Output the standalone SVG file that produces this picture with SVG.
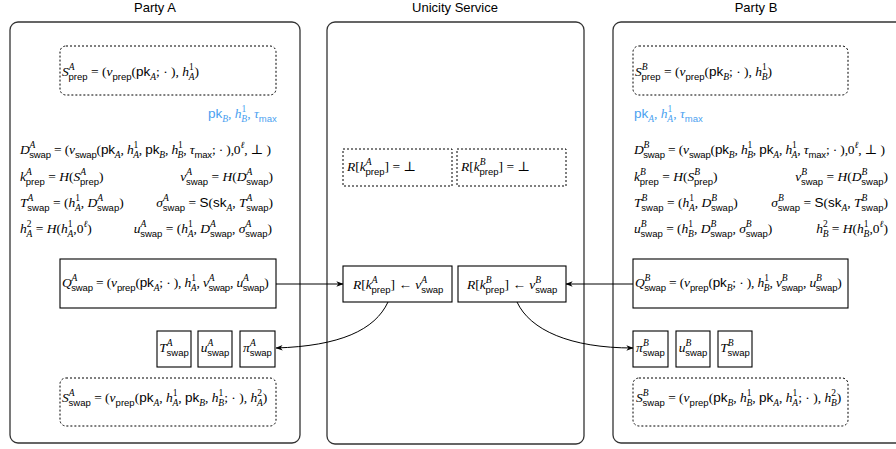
<svg xmlns="http://www.w3.org/2000/svg" width="896" height="449" viewBox="0 0 896 449">
<defs>
<style>
.panel{fill:#fff;stroke:#333;stroke-width:1.3}
.box{fill:#fff;stroke:#000;stroke-width:1.1}
.dash{fill:#fff;stroke:#000;stroke-width:1;stroke-dasharray:2 2}
.title{font-family:"Liberation Sans",Arial,sans-serif;font-size:13px;fill:#000;text-anchor:middle}
.eq{font-family:"Liberation Serif","DejaVu Serif",serif;font-size:13.5px;fill:#000}
.tight{letter-spacing:-0.15px}
.s{font-size:9.5px}
.sf{font-family:"Liberation Sans","DejaVu Sans",sans-serif}
.i{font-style:italic}
.blue{fill:#4a9ff0}
.conn{fill:none;stroke:#000;stroke-width:1}
</style>
<marker id="ah" viewBox="0 0 10 10" refX="9.5" refY="5" markerWidth="7" markerHeight="7" orient="auto" markerUnits="userSpaceOnUse"><path d="M0,1 L10,5 L0,9 L3,5 Z" fill="#000"/></marker>
</defs>
<rect width="896" height="449" fill="#fff"/>

<g id="titles">
<text class="title" x="155" y="12">Party A</text>
<text class="title" x="455" y="12">Unicity Service</text>
<text class="title" x="756" y="12">Party B</text>
</g>

<g id="panelA"><rect class="panel" x="10" y="22" width="290" height="421" rx="8"/></g>
<g id="panelU"><rect class="panel" x="327" y="22" width="257" height="422" rx="8"/></g>
<g id="panelB"><rect class="panel" x="613" y="22" width="300" height="421" rx="8"/></g>

<g id="A-Sprep">
<rect class="dash" x="60" y="46" width="216" height="49" rx="6"/>
<text class="eq" x="62" y="76"><tspan class="i">S</tspan><tspan class="s i" dy="-6">A</tspan><tspan class="s sf" dx="-6" dy="10">prep</tspan><tspan dy="-4"> = (</tspan><tspan class="i">ν</tspan><tspan class="s sf" dy="4">prep</tspan><tspan dy="-4">(</tspan><tspan class="sf">pk</tspan><tspan class="s i" dy="4">A</tspan><tspan dy="-4">; · ), </tspan><tspan class="i">h</tspan><tspan class="s" dy="-6">1</tspan><tspan class="s i" dx="-5" dy="10">A</tspan><tspan dy="-4">)</tspan></text>
</g>

<g id="A-inputs">
<text class="eq blue" x="208" y="118"><tspan class="sf">pk</tspan><tspan class="s i" dy="4">B</tspan><tspan dy="-4">, </tspan><tspan class="i">h</tspan><tspan class="s" dy="-6">1</tspan><tspan class="s i" dx="-5" dy="10">B</tspan><tspan dy="-4">, </tspan><tspan class="i">τ</tspan><tspan class="s sf" dy="4">max</tspan></text>
</g>

<g id="A-equations">
<text class="eq tight" x="20" y="154"><tspan class="i">D</tspan><tspan class="s i" dy="-6">A</tspan><tspan class="s sf" dx="-6" dy="10">swap</tspan><tspan dy="-4"> = (</tspan><tspan class="i">ν</tspan><tspan class="s sf" dy="4">swap</tspan><tspan dy="-4">(</tspan><tspan class="sf">pk</tspan><tspan class="s i" dy="4">A</tspan><tspan dy="-4">, </tspan><tspan class="i">h</tspan><tspan class="s" dy="-6">1</tspan><tspan class="s i" dx="-5" dy="10">A</tspan><tspan dy="-4">, </tspan><tspan class="sf">pk</tspan><tspan class="s i" dy="4">B</tspan><tspan dy="-4">, </tspan><tspan class="i">h</tspan><tspan class="s" dy="-6">1</tspan><tspan class="s i" dx="-5" dy="10">B</tspan><tspan dy="-4">, </tspan><tspan class="i">τ</tspan><tspan class="s sf" dy="4">max</tspan><tspan dy="-4">; · ),0</tspan><tspan class="s i" dy="-6">ℓ</tspan><tspan dy="6">, ⊥ )</tspan></text>
<text class="eq" x="20" y="181"><tspan class="i">k</tspan><tspan class="s i" dy="-6">A</tspan><tspan class="s sf" dx="-6" dy="10">prep</tspan><tspan dy="-4"> = </tspan><tspan class="i">H</tspan><tspan>(</tspan><tspan class="i">S</tspan><tspan class="s i" dy="-6">A</tspan><tspan class="s sf" dx="-6" dy="10">prep</tspan><tspan dy="-4">)</tspan></text>
<text class="eq" x="273" y="181" text-anchor="end"><tspan class="i">v</tspan><tspan class="s i" dy="-6">A</tspan><tspan class="s sf" dx="-6" dy="10">swap</tspan><tspan dy="-4"> = </tspan><tspan class="i">H</tspan><tspan>(</tspan><tspan class="i">D</tspan><tspan class="s i" dy="-6">A</tspan><tspan class="s sf" dx="-6" dy="10">swap</tspan><tspan dy="-4">)</tspan></text>
<text class="eq" x="20" y="207"><tspan class="i">T</tspan><tspan class="s i" dy="-6">A</tspan><tspan class="s sf" dx="-6" dy="10">swap</tspan><tspan dy="-4"> = (</tspan><tspan class="i">h</tspan><tspan class="s" dy="-6">1</tspan><tspan class="s i" dx="-5" dy="10">A</tspan><tspan dy="-4">, </tspan><tspan class="i">D</tspan><tspan class="s i" dy="-6">A</tspan><tspan class="s sf" dx="-6" dy="10">swap</tspan><tspan dy="-4">)</tspan></text>
<text class="eq" x="273" y="207" text-anchor="end"><tspan class="i">σ</tspan><tspan class="s i" dy="-6">A</tspan><tspan class="s sf" dx="-6" dy="10">swap</tspan><tspan dy="-4"> = </tspan><tspan class="sf">S</tspan><tspan>(</tspan><tspan class="sf">sk</tspan><tspan class="s i" dy="4">A</tspan><tspan dy="-4">, </tspan><tspan class="i">T</tspan><tspan class="s i" dy="-6">A</tspan><tspan class="s sf" dx="-6" dy="10">swap</tspan><tspan dy="-4">)</tspan></text>
<text class="eq" x="20" y="233"><tspan class="i">h</tspan><tspan class="s" dy="-6">2</tspan><tspan class="s i" dx="-5" dy="10">A</tspan><tspan dy="-4"> = </tspan><tspan class="i">H</tspan><tspan>(</tspan><tspan class="i">h</tspan><tspan class="s" dy="-6">1</tspan><tspan class="s i" dx="-5" dy="10">A</tspan><tspan dy="-4">,0</tspan><tspan class="s i" dy="-6">ℓ</tspan><tspan dy="6">)</tspan></text>
<text class="eq" x="272" y="233" text-anchor="end"><tspan class="i">u</tspan><tspan class="s i" dy="-6">A</tspan><tspan class="s sf" dx="-6" dy="10">swap</tspan><tspan dy="-4"> = (</tspan><tspan class="i">h</tspan><tspan class="s" dy="-6">1</tspan><tspan class="s i" dx="-5" dy="10">A</tspan><tspan dy="-4">, </tspan><tspan class="i">D</tspan><tspan class="s i" dy="-6">A</tspan><tspan class="s sf" dx="-6" dy="10">swap</tspan><tspan dy="-4">, </tspan><tspan class="i">σ</tspan><tspan class="s i" dy="-6">A</tspan><tspan class="s sf" dx="-6" dy="10">swap</tspan><tspan dy="-4">)</tspan></text>
</g>

<g id="A-Qswap">
<rect class="box" x="60" y="259" width="216" height="49"/>
<text class="eq tight" x="62" y="287"><tspan class="i">Q</tspan><tspan class="s i" dy="-6">A</tspan><tspan class="s sf" dx="-6" dy="10">swap</tspan><tspan dy="-4"> = (</tspan><tspan class="i">ν</tspan><tspan class="s sf" dy="4">prep</tspan><tspan dy="-4">(</tspan><tspan class="sf">pk</tspan><tspan class="s i" dy="4">A</tspan><tspan dy="-4">; · ), </tspan><tspan class="i">h</tspan><tspan class="s" dy="-6">1</tspan><tspan class="s i" dx="-5" dy="10">A</tspan><tspan dy="-4">, </tspan><tspan class="i">v</tspan><tspan class="s i" dy="-6">A</tspan><tspan class="s sf" dx="-6" dy="10">swap</tspan><tspan dy="-4">, </tspan><tspan class="i">u</tspan><tspan class="s i" dy="-6">A</tspan><tspan class="s sf" dx="-6" dy="10">swap</tspan><tspan dy="-4">)</tspan></text>
</g>

<g id="A-Tswap">
<rect class="box" x="157" y="331" width="34" height="36"/>
<text class="eq" x="174" y="352" text-anchor="middle"><tspan class="i">T</tspan><tspan class="s i" dy="-6">A</tspan><tspan class="s sf" dx="-6" dy="10">swap</tspan></text>
</g>
<g id="A-uswap">
<rect class="box" x="198" y="331" width="34" height="36"/>
<text class="eq" x="215" y="352" text-anchor="middle"><tspan class="i">u</tspan><tspan class="s i" dy="-6">A</tspan><tspan class="s sf" dx="-6" dy="10">swap</tspan></text>
</g>
<g id="A-piswap">
<rect class="box" x="240" y="331" width="35" height="36"/>
<text class="eq" x="257.5" y="352" text-anchor="middle"><tspan class="i">π</tspan><tspan class="s i" dy="-6">A</tspan><tspan class="s sf" dx="-6" dy="10">swap</tspan></text>
</g>

<g id="A-Sswap">
<rect class="dash" x="60" y="378" width="216" height="48" rx="6"/>
<text class="eq" x="62" y="402"><tspan class="i">S</tspan><tspan class="s i" dy="-6">A</tspan><tspan class="s sf" dx="-6" dy="10">swap</tspan><tspan dy="-4"> = (</tspan><tspan class="i">ν</tspan><tspan class="s sf" dy="4">prep</tspan><tspan dy="-4">(</tspan><tspan class="sf">pk</tspan><tspan class="s i" dy="4">A</tspan><tspan dy="-4">, </tspan><tspan class="i">h</tspan><tspan class="s" dy="-6">1</tspan><tspan class="s i" dx="-5" dy="10">A</tspan><tspan dy="-4">, </tspan><tspan class="sf">pk</tspan><tspan class="s i" dy="4">B</tspan><tspan dy="-4">, </tspan><tspan class="i">h</tspan><tspan class="s" dy="-6">1</tspan><tspan class="s i" dx="-5" dy="10">B</tspan><tspan dy="-4">; · ), </tspan><tspan class="i">h</tspan><tspan class="s" dy="-6">2</tspan><tspan class="s i" dx="-5" dy="10">A</tspan><tspan dy="-4">)</tspan></text>
</g>

<g id="U-RA-bot">
<rect class="dash" x="343" y="149" width="109" height="37"/>
<text class="eq" x="347" y="171"><tspan class="i">R</tspan><tspan>[</tspan><tspan class="i">k</tspan><tspan class="s i" dy="-6">A</tspan><tspan class="s sf" dx="-6" dy="10">prep</tspan><tspan dy="-4">] = ⊥</tspan></text>
</g>
<g id="U-RB-bot">
<rect class="dash" x="457" y="149" width="109" height="37"/>
<text class="eq" x="461" y="171"><tspan class="i">R</tspan><tspan>[</tspan><tspan class="i">k</tspan><tspan class="s i" dy="-6">B</tspan><tspan class="s sf" dx="-6" dy="10">prep</tspan><tspan dy="-4">] = ⊥</tspan></text>
</g>
<g id="U-RA-set">
<rect class="box" x="343" y="266" width="109" height="36"/>
<text class="eq" x="353" y="289"><tspan class="i">R</tspan><tspan>[</tspan><tspan class="i">k</tspan><tspan class="s i" dy="-6">A</tspan><tspan class="s sf" dx="-6" dy="10">prep</tspan><tspan dy="-4">] ← </tspan><tspan class="i">v</tspan><tspan class="s i" dy="-6">A</tspan><tspan class="s sf" dx="-6" dy="10">swap</tspan></text>
</g>
<g id="U-RB-set">
<rect class="box" x="458" y="266" width="108" height="36"/>
<text class="eq" x="467" y="289"><tspan class="i">R</tspan><tspan>[</tspan><tspan class="i">k</tspan><tspan class="s i" dy="-6">B</tspan><tspan class="s sf" dx="-6" dy="10">prep</tspan><tspan dy="-4">] ← </tspan><tspan class="i">v</tspan><tspan class="s i" dy="-6">B</tspan><tspan class="s sf" dx="-6" dy="10">swap</tspan></text>
</g>

<g id="B-Sprep">
<rect class="dash" x="633" y="46" width="215" height="49" rx="6"/>
<text class="eq" x="635" y="76"><tspan class="i">S</tspan><tspan class="s i" dy="-6">B</tspan><tspan class="s sf" dx="-6" dy="10">prep</tspan><tspan dy="-4"> = (</tspan><tspan class="i">ν</tspan><tspan class="s sf" dy="4">prep</tspan><tspan dy="-4">(</tspan><tspan class="sf">pk</tspan><tspan class="s i" dy="4">B</tspan><tspan dy="-4">; · ), </tspan><tspan class="i">h</tspan><tspan class="s" dy="-6">1</tspan><tspan class="s i" dx="-5" dy="10">B</tspan><tspan dy="-4">)</tspan></text>
</g>

<g id="B-inputs">
<text class="eq blue" x="634" y="118"><tspan class="sf">pk</tspan><tspan class="s i" dy="4">A</tspan><tspan dy="-4">, </tspan><tspan class="i">h</tspan><tspan class="s" dy="-6">1</tspan><tspan class="s i" dx="-5" dy="10">A</tspan><tspan dy="-4">, </tspan><tspan class="i">τ</tspan><tspan class="s sf" dy="4">max</tspan></text>
</g>

<g id="B-equations">
<text class="eq tight" x="634" y="154"><tspan class="i">D</tspan><tspan class="s i" dy="-6">B</tspan><tspan class="s sf" dx="-6" dy="10">swap</tspan><tspan dy="-4"> = (</tspan><tspan class="i">ν</tspan><tspan class="s sf" dy="4">swap</tspan><tspan dy="-4">(</tspan><tspan class="sf">pk</tspan><tspan class="s i" dy="4">B</tspan><tspan dy="-4">, </tspan><tspan class="i">h</tspan><tspan class="s" dy="-6">1</tspan><tspan class="s i" dx="-5" dy="10">B</tspan><tspan dy="-4">, </tspan><tspan class="sf">pk</tspan><tspan class="s i" dy="4">A</tspan><tspan dy="-4">, </tspan><tspan class="i">h</tspan><tspan class="s" dy="-6">1</tspan><tspan class="s i" dx="-5" dy="10">A</tspan><tspan dy="-4">, </tspan><tspan class="i">τ</tspan><tspan class="s sf" dy="4">max</tspan><tspan dy="-4">; · ),0</tspan><tspan class="s i" dy="-6">ℓ</tspan><tspan dy="6">, ⊥ )</tspan></text>
<text class="eq" x="634" y="181"><tspan class="i">k</tspan><tspan class="s i" dy="-6">B</tspan><tspan class="s sf" dx="-6" dy="10">prep</tspan><tspan dy="-4"> = </tspan><tspan class="i">H</tspan><tspan>(</tspan><tspan class="i">S</tspan><tspan class="s i" dy="-6">B</tspan><tspan class="s sf" dx="-6" dy="10">prep</tspan><tspan dy="-4">)</tspan></text>
<text class="eq" x="888" y="181" text-anchor="end"><tspan class="i">v</tspan><tspan class="s i" dy="-6">B</tspan><tspan class="s sf" dx="-6" dy="10">swap</tspan><tspan dy="-4"> = </tspan><tspan class="i">H</tspan><tspan>(</tspan><tspan class="i">D</tspan><tspan class="s i" dy="-6">B</tspan><tspan class="s sf" dx="-6" dy="10">swap</tspan><tspan dy="-4">)</tspan></text>
<text class="eq" x="634" y="207"><tspan class="i">T</tspan><tspan class="s i" dy="-6">B</tspan><tspan class="s sf" dx="-6" dy="10">swap</tspan><tspan dy="-4"> = (</tspan><tspan class="i">h</tspan><tspan class="s" dy="-6">1</tspan><tspan class="s i" dx="-5" dy="10">A</tspan><tspan dy="-4">, </tspan><tspan class="i">D</tspan><tspan class="s i" dy="-6">B</tspan><tspan class="s sf" dx="-6" dy="10">swap</tspan><tspan dy="-4">)</tspan></text>
<text class="eq" x="888" y="207" text-anchor="end"><tspan class="i">σ</tspan><tspan class="s i" dy="-6">B</tspan><tspan class="s sf" dx="-6" dy="10">swap</tspan><tspan dy="-4"> = </tspan><tspan class="sf">S</tspan><tspan>(</tspan><tspan class="sf">sk</tspan><tspan class="s i" dy="4">A</tspan><tspan dy="-4">, </tspan><tspan class="i">T</tspan><tspan class="s i" dy="-6">B</tspan><tspan class="s sf" dx="-6" dy="10">swap</tspan><tspan dy="-4">)</tspan></text>
<text class="eq" x="634" y="233"><tspan class="i">u</tspan><tspan class="s i" dy="-6">B</tspan><tspan class="s sf" dx="-6" dy="10">swap</tspan><tspan dy="-4"> = (</tspan><tspan class="i">h</tspan><tspan class="s" dy="-6">1</tspan><tspan class="s i" dx="-5" dy="10">B</tspan><tspan dy="-4">, </tspan><tspan class="i">D</tspan><tspan class="s i" dy="-6">B</tspan><tspan class="s sf" dx="-6" dy="10">swap</tspan><tspan dy="-4">, </tspan><tspan class="i">σ</tspan><tspan class="s i" dy="-6">B</tspan><tspan class="s sf" dx="-6" dy="10">swap</tspan><tspan dy="-4">)</tspan></text>
<text class="eq" x="888" y="233" text-anchor="end"><tspan class="i">h</tspan><tspan class="s" dy="-6">2</tspan><tspan class="s i" dx="-5" dy="10">B</tspan><tspan dy="-4"> = </tspan><tspan class="i">H</tspan><tspan>(</tspan><tspan class="i">h</tspan><tspan class="s" dy="-6">1</tspan><tspan class="s i" dx="-5" dy="10">B</tspan><tspan dy="-4">,0</tspan><tspan class="s i" dy="-6">ℓ</tspan><tspan dy="6">)</tspan></text>
</g>

<g id="B-Qswap">
<rect class="box" x="633" y="259" width="215" height="49"/>
<text class="eq tight" x="635" y="287"><tspan class="i">Q</tspan><tspan class="s i" dy="-6">B</tspan><tspan class="s sf" dx="-6" dy="10">swap</tspan><tspan dy="-4"> = (</tspan><tspan class="i">ν</tspan><tspan class="s sf" dy="4">prep</tspan><tspan dy="-4">(</tspan><tspan class="sf">pk</tspan><tspan class="s i" dy="4">B</tspan><tspan dy="-4">; · ), </tspan><tspan class="i">h</tspan><tspan class="s" dy="-6">1</tspan><tspan class="s i" dx="-5" dy="10">B</tspan><tspan dy="-4">, </tspan><tspan class="i">v</tspan><tspan class="s i" dy="-6">B</tspan><tspan class="s sf" dx="-6" dy="10">swap</tspan><tspan dy="-4">, </tspan><tspan class="i">u</tspan><tspan class="s i" dy="-6">B</tspan><tspan class="s sf" dx="-6" dy="10">swap</tspan><tspan dy="-4">)</tspan></text>
</g>

<g id="B-piswap">
<rect class="box" x="633" y="331" width="35" height="36"/>
<text class="eq" x="650.5" y="352" text-anchor="middle"><tspan class="i">π</tspan><tspan class="s i" dy="-6">B</tspan><tspan class="s sf" dx="-6" dy="10">swap</tspan></text>
</g>
<g id="B-uswap">
<rect class="box" x="676" y="331" width="34" height="36"/>
<text class="eq" x="693" y="352" text-anchor="middle"><tspan class="i">u</tspan><tspan class="s i" dy="-6">B</tspan><tspan class="s sf" dx="-6" dy="10">swap</tspan></text>
</g>
<g id="B-Tswap">
<rect class="box" x="718" y="331" width="34" height="36"/>
<text class="eq" x="735" y="352" text-anchor="middle"><tspan class="i">T</tspan><tspan class="s i" dy="-6">B</tspan><tspan class="s sf" dx="-6" dy="10">swap</tspan></text>
</g>

<g id="B-Sswap">
<rect class="dash" x="633" y="378" width="215" height="48" rx="6"/>
<text class="eq" x="636" y="402"><tspan class="i">S</tspan><tspan class="s i" dy="-6">B</tspan><tspan class="s sf" dx="-6" dy="10">swap</tspan><tspan dy="-4"> = (</tspan><tspan class="i">ν</tspan><tspan class="s sf" dy="4">prep</tspan><tspan dy="-4">(</tspan><tspan class="sf">pk</tspan><tspan class="s i" dy="4">B</tspan><tspan dy="-4">, </tspan><tspan class="i">h</tspan><tspan class="s" dy="-6">1</tspan><tspan class="s i" dx="-5" dy="10">B</tspan><tspan dy="-4">, </tspan><tspan class="sf">pk</tspan><tspan class="s i" dy="4">A</tspan><tspan dy="-4">, </tspan><tspan class="i">h</tspan><tspan class="s" dy="-6">1</tspan><tspan class="s i" dx="-5" dy="10">A</tspan><tspan dy="-4">; · ), </tspan><tspan class="i">h</tspan><tspan class="s" dy="-6">2</tspan><tspan class="s i" dx="-5" dy="10">B</tspan><tspan dy="-4">)</tspan></text>
</g>

<g id="connectors">
<path class="conn" d="M276,284 L343,284" marker-end="url(#ah)"/>
<path class="conn" d="M633,284 L566,284" marker-end="url(#ah)"/>
<path class="conn" d="M388,302 C375,330 340,346 276,348" marker-end="url(#ah)"/>
<path class="conn" d="M517,302 C530,330 570,348 633,348" marker-end="url(#ah)"/>
</g>
</svg>
